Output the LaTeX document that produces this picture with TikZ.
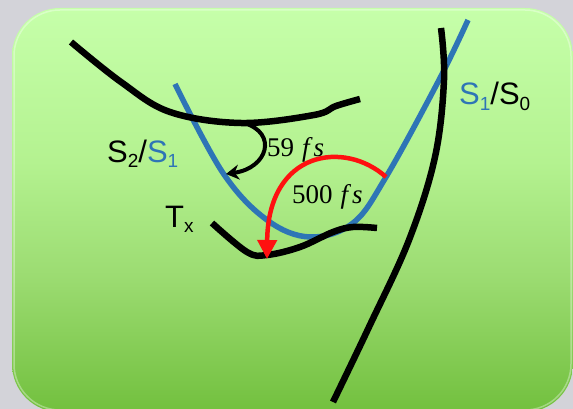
\documentclass[tikz,border=0pt]{standalone}
\usepackage{fontspec}
\setmainfont{Liberation Sans}
\newfontfamily\mserif{Liberation Serif}
\usetikzlibrary{arrows.meta}
\definecolor{bggray}{HTML}{D3D3D9}
\definecolor{gtop}{HTML}{C6FFAA}
\definecolor{gmid}{HTML}{B4F290}
\definecolor{gmid2}{HTML}{9CDC72}
\definecolor{gbot}{HTML}{72C03E}
\definecolor{sblue}{HTML}{2E75B6}
\definecolor{sred}{HTML}{FF1010}
\pgfdeclareverticalshading{panelshade}{100bp}{color(0bp)=(gbot); color(25bp)=(gbot); color(42bp)=(gmid2); color(56bp)=(gmid); color(75bp)=(gtop); color(100bp)=(gtop)}
\newcommand{\lsub}[1]{\raisebox{-0.32ex}{\fontsize{19}{19}\selectfont #1}}
\tikzset{
  curve/.style={line width=6.5pt, line join=round, line cap=butt},
  blackcurve/.style={curve, black},
  bluecurve/.style={curve, sblue, line width=5.5pt},
  redarrow/.style={line width=4.5pt, sred, -{Triangle[width=19pt,length=19pt]}},
  blackarrow/.style={line width=4pt, black, -{Stealth[width=15pt,length=13pt]}},
  label/.style={font=\fontsize{31}{31}\selectfont, inner sep=0pt},
  mlabel/.style={font=\mserif\fontsize{27}{27}\selectfont, inner sep=0pt}
}
\begin{document}
\begin{tikzpicture}[x=1pt,y=-1pt]
\useasboundingbox (0,0) rectangle (573,409);
\fill[bggray] (0,0) rectangle (573,409);
\shade[shading=panelshade, rounded corners=48pt] (12,8) rectangle (573,412);
\draw[white, opacity=0.35, line width=1.5pt, rounded corners=46pt] (14,10) rectangle (571,410);

% potential curves
\draw[bluecurve] plot[smooth, tension=0.6] coordinates {(175,84) (223,173) (267,220) (310,237) (353,223) (386,177) (439,80) (468,20)};
\draw[blackcurve] plot[smooth, tension=0.6] coordinates {(71,42) (121,82) (170,112) (241,123) (314,115) (336,106) (360,99)};
\draw[blackcurve] plot[smooth, tension=0.6] coordinates {(212,223) (247,252) (267,255) (300,247) (333,232) (353,227) (377,228)};
\draw[blackcurve] plot[smooth, tension=0.6] coordinates {(441,28) (444,80) (435,157) (409,240) (369,327) (333,402)};

% transitions
\coordinate (a1) at (244,123);
\coordinate (a2) at (226,174);
\draw[blackarrow] (a1) .. controls (278,133) and (268,168) .. (a2);
\coordinate (r1) at (386,177);
\coordinate (r2) at (267,259);
\draw[redarrow] (r1) .. controls (345,140) and (268,150) .. (r2);

% labels
\node[label, anchor=base west] (s21) at (107,162) {S\lsub{2}/\textcolor{sblue}{S\lsub{1}}};
\node[label, anchor=base west] (tx) at (165,227) {T\lsub{x}};
\node[label, anchor=base west] (s10) at (459,105) {\textcolor{sblue}{S\lsub{1}}/S\lsub{0}};
\node[mlabel, anchor=base west] (t59) at (267,157) {59\hspace{8pt}\textit{f\hspace{4pt}s}};
\node[mlabel, anchor=base west] (t500) at (292,204) {500\hspace{8pt}\textit{f\hspace{4pt}s}};
\end{tikzpicture}
\end{document}
